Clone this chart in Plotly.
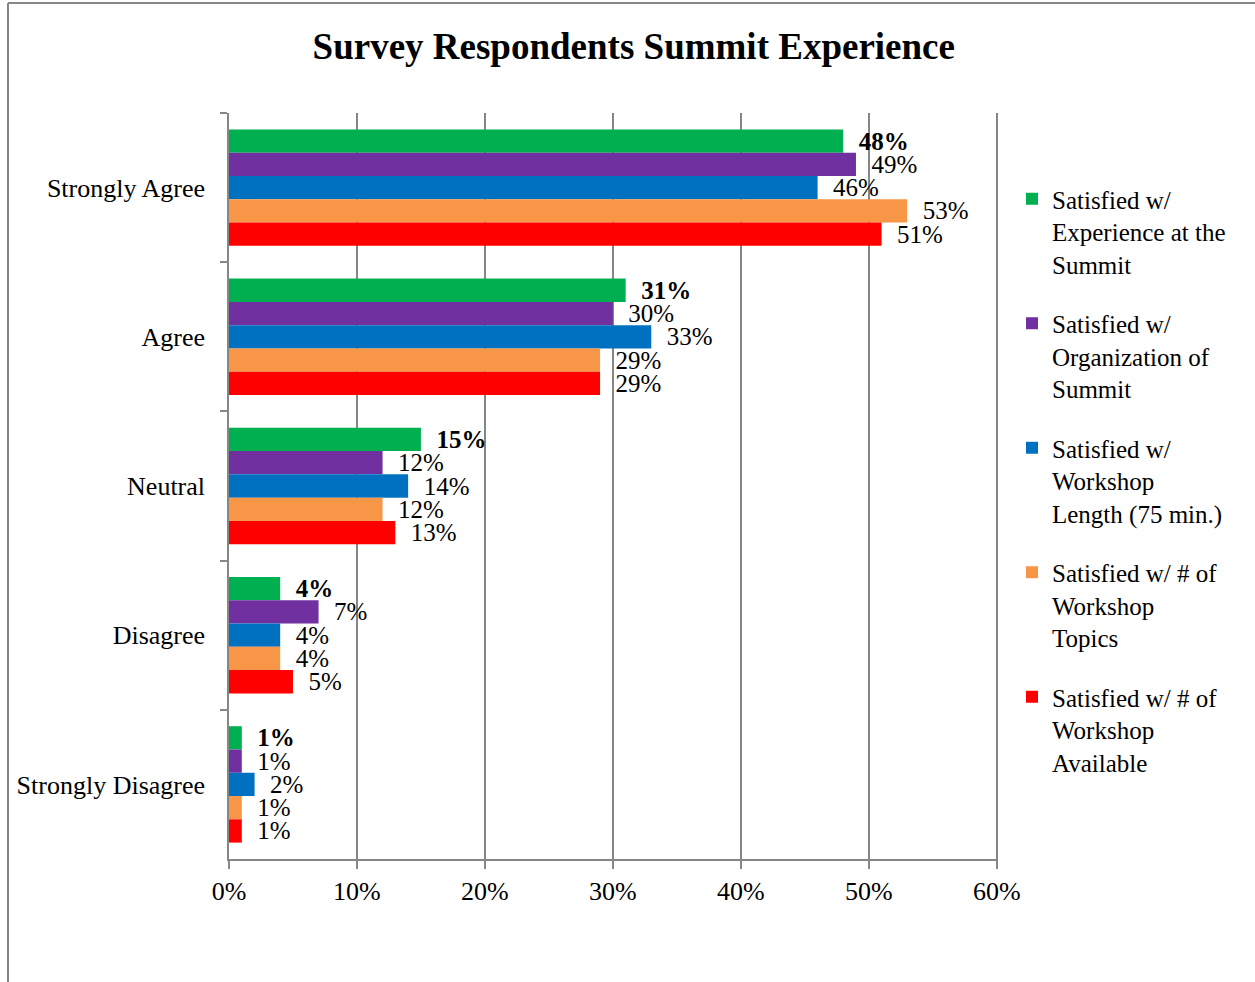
import plotly.graph_objects as go

categories = ["Strongly Agree", "Agree", "Neutral", "Disagree", "Strongly Disagree"]
series_names = [
    "Satisfied w/<br>Experience at the<br>Summit",
    "Satisfied w/<br>Organization of<br>Summit",
    "Satisfied w/<br>Workshop<br>Length (75 min.)",
    "Satisfied w/ # of<br>Workshop<br>Topics",
    "Satisfied w/ # of<br>Workshop<br>Available",
]
experience = [48, 31, 15, 4, 1]
organization = [49, 30, 12, 7, 1]
workshop_length = [46, 33, 14, 4, 2]
workshop_topics = [53, 29, 12, 4, 1]
workshop_available = [51, 29, 13, 5, 1]
x_ticks = [0, 10, 20, 30, 40, 50, 60]
x_tick_labels = ["0%", "10%", "20%", "30%", "40%", "50%", "60%"]

colors = ["#00B050", "#7030A0", "#0070C0", "#F79646", "#FF0000"]
series_values = [experience, organization, workshop_length, workshop_topics, workshop_available]

FONT = "Liberation Serif, Times New Roman, serif"
W, H = 1255, 982
L, R, T, B = 229, 257, 113, 123
PW, PH = W - L - R, H - T - B

def px_x(p):
    return (p - L) / PW

def px_y(p):
    return (H - B - p) / PH

fig = go.Figure()
for i, (name, vals, col) in enumerate(zip(series_names, series_values, colors)):
    labels = [f"<b>{v}%</b>" if i == 0 else f"{v}%" for v in vals]
    fig.add_trace(go.Bar(
        y=categories, x=vals, name=name, orientation="h",
        marker=dict(color=col, line=dict(width=0)),
        text=labels, texttemplate="\u00a0\u00a0%{text}", textposition="outside",
        textfont=dict(family=FONT, size=25, color="black"),
        outsidetextfont=dict(family=FONT, size=25, color="black"),
        constraintext="none", cliponaxis=False,
        legendgroup=f"g{i}", hoverinfo="x+name",
    ))

fig.update_layout(
    width=W, height=H,
    margin=dict(l=L, r=R, t=T, b=B),
    paper_bgcolor="white", plot_bgcolor="white",
    barmode="group", bargap=0.22, bargroupgap=0,
    font=dict(family=FONT, size=26, color="black"),
    title=dict(text="<b>Survey Respondents Summit Experience</b>",
               font=dict(family=FONT, size=37, color="black"),
               x=0.505, xanchor="center", yref="container", y=1 - 46 / H, yanchor="middle"),
    legend=dict(x=px_x(1012), xanchor="left", y=px_y(176), yanchor="top",
                font=dict(family=FONT, size=25, color="black"),
                valign="top", tracegroupgap=24, itemwidth=30,
                bgcolor="rgba(0,0,0,0)"),
    showlegend=True,
)
fig.update_xaxes(range=[0, 60.1], tickvals=x_ticks, ticktext=x_tick_labels,
                 showgrid=True, gridcolor="#868686", gridwidth=1.5,
                 showline=True, linecolor="#868686", linewidth=1.5,
                 ticks="outside", ticklen=8, tickcolor="#868686", tickwidth=1.5,
                 tickfont=dict(family=FONT, size=26, color="black"),
                 zeroline=False, ticklabelstandoff=0)
fig.update_yaxes(autorange="reversed", type="category",
                 showline=True, linecolor="#868686", linewidth=1.5,
                 ticks="outside", ticklen=7, tickcolor="#868686", tickwidth=1.5,
                 tickson="boundaries", showgrid=False,
                 tickfont=dict(family=FONT, size=26, color="black"),
                 ticklabelstandoff=17)

# outer chart frame (left and top edges)
fig.add_shape(type="line", xref="paper", yref="paper",
              x0=px_x(8), x1=px_x(8), y0=px_y(3), y1=px_y(982),
              line=dict(color="#868686", width=2))
fig.add_shape(type="line", xref="paper", yref="paper",
              x0=px_x(8), x1=px_x(1255), y0=px_y(3), y1=px_y(3),
              line=dict(color="#868686", width=2))

fig.write_html("out.html", config={"displayModeBar": False},
               post_script="document.body.style.margin='0';document.body.style.overflow='hidden';")
